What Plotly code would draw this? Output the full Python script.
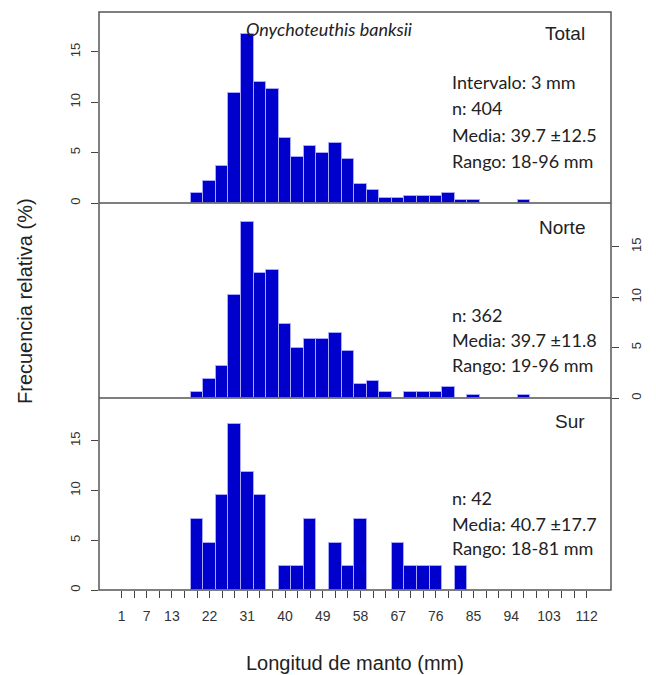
import plotly.graph_objects as go

# ---- data ----
bin_centers = list(range(19, 98, 3))  # mm, 3 mm interval
total = [1.0, 2.2, 3.7, 10.9, 16.8, 12.0, 11.3, 6.5, 4.6, 5.7, 5.0, 6.0, 4.4, 1.9,
         1.3, 0.5, 0.5, 0.7, 0.7, 0.7, 1.0, 0.25, 0.25, 0, 0, 0, 0.25]
norte = [0.55, 1.93, 3.2, 10.2, 17.4, 12.4, 12.7, 7.3, 5.0, 5.8, 5.8, 6.4, 4.7, 1.4,
         1.7, 0.55, 0, 0.55, 0.55, 0.55, 1.1, 0, 0.28, 0, 0, 0, 0.28]
sur = [7.14, 4.76, 9.52, 16.67, 11.9, 9.52, 0, 2.38, 2.38, 7.14, 0, 4.76, 2.38, 7.14,
       0, 0, 4.76, 2.38, 2.38, 2.38, 0, 2.38, 0, 0, 0, 0, 0]

x_ticks = list(range(1, 113, 3))
x_tick_labels = ["1", "7", "13", "22", "31", "40", "49", "58", "67", "76", "85", "94", "103", "112"]
y_ticks = [0, 5, 10, 15]

panel_names = ["Total", "Norte", "Sur"]
panel_stats = [
    ["Intervalo: 3 mm", "n: 404", "Media: 39.7 ±12.5", "Rango: 18-96 mm"],
    ["n: 362", "Media: 39.7 ±11.8", "Rango: 19-96 mm"],
    ["n: 42", "Media: 40.7 ±17.7", "Rango: 18-81 mm"],
]
species = "Onychoteuthis banksii"
x_title = "Longitud de manto (mm)"
y_title = "Frecuencia relativa (%)"

# ---- figure ----
W, H = 656, 675
ml, mr, mt, mb = 99, 45, 12, 85
pw, ph = W - ml - mr, H - mt - mb

def py(pix):  # pixel y -> paper y
    return (H - mb - pix) / ph

def px(pix):
    return (pix - ml) / pw

BLUE = "#0000CD"
EDGE = "#a8a8ff"
AX = "#444444"
TXT = "#222222"

fig = go.Figure()
for vals, ya in zip([total, norte, sur], ["y", "y2", "y3"]):
    fig.add_trace(go.Bar(
        x=bin_centers, y=[v if v > 0 else None for v in vals],
        width=3, xaxis="x", yaxis=ya,
        marker=dict(color=BLUE, line=dict(color=EDGE, width=1)),
        showlegend=False, hoverinfo="x+y",
    ))

d_top = (py(203), 1.0)
d_mid = (py(398), py(203))
d_bot = (0.0, py(398))

tick_text = [str(t) if str(t) in x_tick_labels else "" for t in x_ticks]

yfont = dict(family="Liberation Sans, Arial", size=13, color="#333333")
common_y = dict(tickvals=y_ticks, ticks="outside", ticklen=7, tickcolor=AX,
                tickwidth=1, tickangle=-90, showgrid=False, zeroline=False,
                showline=False, tickfont=yfont, ticklabelstandoff=6, fixedrange=True)

fig.update_layout(
    width=W, height=H,
    margin=dict(l=ml, r=mr, t=mt, b=mb),
    paper_bgcolor="white", plot_bgcolor="white",
    bargap=0,
    xaxis=dict(domain=[0, 1], range=[-4.4, 117.8], anchor="y3",
               tickvals=x_ticks, ticktext=tick_text, ticks="outside", ticklen=7,
               tickcolor=AX, tickwidth=1, showgrid=False, zeroline=False, showline=False,
               tickfont=dict(family="Liberation Sans, Arial", size=14, color="#333333"),
               ticklabelstandoff=6),
    yaxis=dict(domain=list(d_top), range=[0, 18.97], anchor="x", side="left", **common_y),
    yaxis2=dict(domain=list(d_mid), range=[0, 19.33], anchor="x", side="right",
                **common_y),
    yaxis3=dict(domain=list(d_bot), range=[0, 19.3], anchor="x", side="left", **common_y),
)

# frame lines
line = dict(color="#555555", width=1.5)
shapes = [
    dict(type="rect", xref="paper", yref="paper", x0=0, x1=1, y0=0, y1=1, line=line),
    dict(type="line", xref="paper", yref="paper", x0=0, x1=1, y0=d_top[0], y1=d_top[0], line=line),
    dict(type="line", xref="paper", yref="paper", x0=0, x1=1, y0=d_mid[0], y1=d_mid[0], line=line),
]
fig.update_layout(shapes=shapes)

ann = []
stat_font = dict(family="Lato, Open Sans", size=18, color=TXT)
name_font = dict(family="Liberation Sans, Arial", size=19, color=TXT)

ann.append(dict(text=f"<i>{species}</i>", x=px(329), y=py(29), xref="paper", yref="paper",
                xanchor="center", yanchor="middle", showarrow=False,
                font=dict(family="Lato, Open Sans", size=18, color=TXT)))

name_y = [33, 228, 421]
stat_y = [[82, 108, 135, 161], [315, 340, 365], [498, 524, 548]]
for name, ny, stats, sys_ in zip(panel_names, name_y, panel_stats, stat_y):
    ann.append(dict(text=name, x=px(587), y=py(ny), xref="paper", yref="paper",
                    xanchor="right", yanchor="middle", showarrow=False, font=name_font))
    for s, yy in zip(stats, sys_):
        ann.append(dict(text=s, x=px(450), y=py(yy), xref="paper", yref="paper",
                        xanchor="left", yanchor="middle", showarrow=False, font=stat_font))

ann.append(dict(text=x_title, x=px(355), y=py(663), xref="paper", yref="paper",
                xanchor="center", yanchor="middle", showarrow=False,
                font=dict(family="Liberation Sans, Arial", size=20, color=TXT)))
ann.append(dict(text=y_title, x=px(25), y=py(301), xref="paper", yref="paper",
                xanchor="center", yanchor="middle", showarrow=False, textangle=-90,
                font=dict(family="Liberation Sans, Arial", size=20, color=TXT)))
fig.update_layout(annotations=ann)

fig.write_html("out.html")
